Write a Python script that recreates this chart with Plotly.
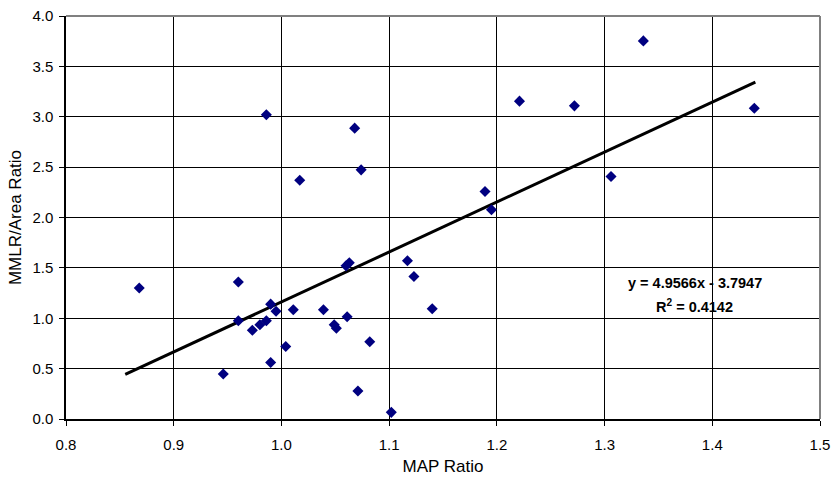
import plotly.graph_objects as go

map_ratio = [0.868, 0.946, 0.960, 0.960, 0.973, 0.980, 0.986, 0.990, 0.995, 0.990,
             0.986, 1.004, 1.011, 1.017, 1.039, 1.049, 1.051, 1.061, 1.060, 1.063,
             1.068, 1.071, 1.074, 1.082, 1.102, 1.117, 1.123, 1.140, 1.189, 1.195,
             1.221, 1.272, 1.306, 1.336, 1.439]
mmlr_ratio = [1.30, 0.446, 1.36, 0.975, 0.88, 0.935, 0.975, 1.14, 1.07, 0.56,
              3.02, 0.72, 1.084, 2.37, 1.084, 0.935, 0.90, 1.015, 1.52, 1.55,
              2.887, 0.278, 2.473, 0.767, 0.066, 1.57, 1.415, 1.095, 2.258, 2.076,
              3.155, 3.108, 2.407, 3.753, 3.085]

slope = 4.9566
intercept = -3.7947
r_squared = 0.4142
trend_x = [0.855, 1.44]
trend_y = [slope * v + intercept for v in trend_x]

x_ticks = [0.8, 0.9, 1.0, 1.1, 1.2, 1.3, 1.4, 1.5]
y_ticks = [0.0, 0.5, 1.0, 1.5, 2.0, 2.5, 3.0, 3.5, 4.0]

FONT = "Liberation Sans, Arial, sans-serif"

fig = go.Figure()
fig.add_trace(go.Scatter(
    x=trend_x, y=trend_y, mode="lines",
    line=dict(color="black", width=3), hoverinfo="skip", showlegend=False))
fig.add_trace(go.Scatter(
    x=map_ratio, y=mmlr_ratio, mode="markers",
    marker=dict(symbol="diamond", size=8.5, color="#000080",
                line=dict(width=0)),
    showlegend=False))

fig.add_annotation(x=1.3836, y=1.352, xref="x", yref="y",
                   text=f"<b>y = {slope}x - {abs(intercept)}</b>", showarrow=False,
                   font=dict(family=FONT, size=14.5, color="black"))
fig.add_annotation(x=1.3836, y=1.117, xref="x", yref="y",
                   text=f"<b>R<sup>2</sup> = {r_squared}</b>", showarrow=False,
                   font=dict(family=FONT, size=14.5, color="black"))

# gray top/right frame of the plot area
fig.add_shape(type="line", xref="paper", yref="paper", x0=0, x1=1, y0=1, y1=1,
              line=dict(color="#808080", width=2))
fig.add_shape(type="line", xref="paper", yref="paper", x0=1, x1=1, y0=0, y1=1,
              line=dict(color="#808080", width=2))

fig.update_layout(
    width=831, height=479,
    margin=dict(l=66, r=11, t=16, b=60, autoexpand=False),
    paper_bgcolor="white", plot_bgcolor="white",
    font=dict(family=FONT, size=15, color="black"),
    xaxis=dict(range=[0.8, 1.5], tickvals=x_ticks,
               ticktext=[f"{v:.1f}" for v in x_ticks],
               showgrid=True, gridcolor="black", gridwidth=1,
               zeroline=False, showline=True, linecolor="black", linewidth=1.5,
               ticks="outside", ticklen=5, tickcolor="black",
               ticklabelstandoff=6, automargin=False, ticklabeloverflow="allow",
               title=dict(text="MAP Ratio", font=dict(size=17), standoff=8)),
    yaxis=dict(range=[0, 4.0], tickvals=y_ticks,
               ticktext=[f"{v:.1f}" for v in y_ticks],
               showgrid=True, gridcolor="black", gridwidth=1,
               zeroline=False, showline=True, linecolor="black", linewidth=1.5,
               ticks="outside", ticklen=5, tickcolor="black",
               ticklabelstandoff=3, automargin=False, ticklabeloverflow="allow",
               title=dict(text="MMLR/Area Ratio", font=dict(size=17), standoff=6)),
)

# remove the default page margin so the figure fills the window exactly
fig.write_html("out.html",
               config={"displayModeBar": False},
               post_script="document.body.style.margin='0';document.body.style.overflow='hidden';")
